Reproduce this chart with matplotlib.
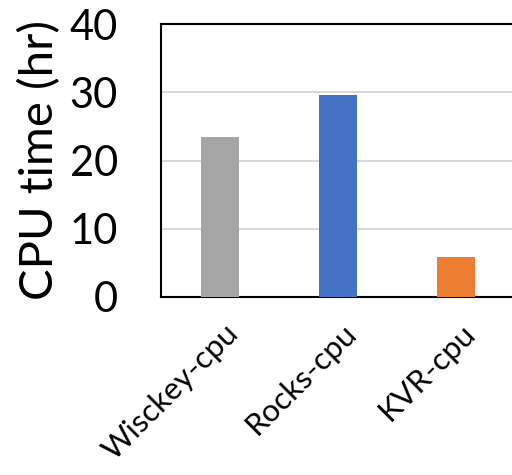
import matplotlib
matplotlib.use("Agg")
import matplotlib.pyplot as plt
import matplotlib.transforms as mtransforms

categories = ["Wisckey-cpu", "Rocks-cpu", "KVR-cpu"]
cpu_hours = [23.5, 29.6, 5.85]
bar_colors = ["#a5a5a5", "#4472c4", "#ed7d31"]
y_ticks = [0, 10, 20, 30, 40]

plt.rcParams["font.family"] = ["Lato", "DejaVu Sans"]

fig = plt.figure(figsize=(5.12, 4.75), dpi=100)
ax = fig.add_axes([161 / 512, 178 / 475, 354 / 512, 273 / 475])

x = list(range(len(categories)))
ax.bar(x, cpu_hours, width=0.32, color=bar_colors, zorder=3)

ax.set_xlim(-0.5, len(categories) - 0.5)
ax.set_ylim(0, 40)
ax.set_yticks(y_ticks)
ax.set_yticklabels([str(t) for t in y_ticks], fontsize=30)
ax.set_xticks(x)
ax.set_xticklabels(categories, fontsize=22.5, rotation=45,
                   ha="right", va="top", rotation_mode="anchor")
ax.tick_params(axis="both", length=0)
ax.tick_params(axis="y", pad=31)
ax.tick_params(axis="x", pad=16)
shift = mtransforms.ScaledTranslation(4 / 100, 0, fig.dpi_scale_trans)
for lbl in ax.get_xticklabels():
    lbl.set_transform(lbl.get_transform() + shift)

ax.yaxis.grid(True, color="#d9d9d9", linewidth=1.5, zorder=0)
for s in ax.spines.values():
    s.set_linewidth(1.5)
    s.set_color("black")

ax.set_ylabel("CPU time (hr)", fontsize=34, labelpad=6)

fig.savefig("out.png", dpi=100)
